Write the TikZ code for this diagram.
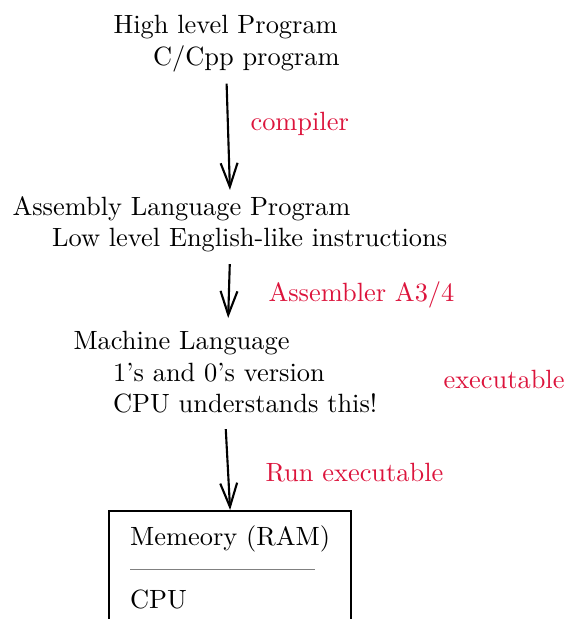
\documentclass[tikz,border=0pt]{standalone}
\usetikzlibrary{arrows.meta}
\definecolor{labelred}{RGB}{220,20,60}

\begin{document}
\begin{tikzpicture}[x=0.3788pt, y=-0.3788pt,
		stage/.style={anchor=base west, align=left},
		note/.style={anchor=base west, text=labelred},
		flow/.style={thick, -{Straight Barb[length=9pt, width=6.4pt]}},
		membox/.style={draw, thick, anchor=north west, align=left, inner xsep=8pt, inner ysep=5.4pt}]
		\useasboundingbox (0,0) rectangle (569,619);
		\clip (0,0) rectangle (569,619);

		% program stages
		\node[stage] (high) at (104.2,65.5) {High level Program\\\hspace*{1.5em}C/Cpp program};
		\node[stage] (asm) at (3.2,246.7) {Assembly Language Program\\\hspace*{1.5em}Low level English-like instructions};
		\node[stage] (mach) at (64.2,412.7) {Machine Language\\\hspace*{1.5em}1's and 0's version\\\hspace*{1.5em}CPU understands this!};
		\node[membox] (mem) at (108,510) {Memeory (RAM)\\\textcolor{gray}{\rule[2.4pt]{70pt}{0.4pt}}\\CPU};

		% steps
		\draw[flow, shorten <=0.8pt, shorten >=-1.2pt] (high.south) -- (asm.north);
		\draw[flow, shorten <=1pt, shorten >=1.4pt] (asm.south) -- ([xshift=1pt]mach.north);
		\draw[flow, shorten <=2.5pt] (mach.south) -- (mem.north);

		\node[note] (compiler) at (241.2,131) {compiler};
		\node[note] (assembler) at (259.2,301) {Assembler A3/4};
		\node[note] (exe) at (434.2,388) {executable};
		\node[note] (run) at (256.2,481) {Run executable};

	\end{tikzpicture}
\end{document}
